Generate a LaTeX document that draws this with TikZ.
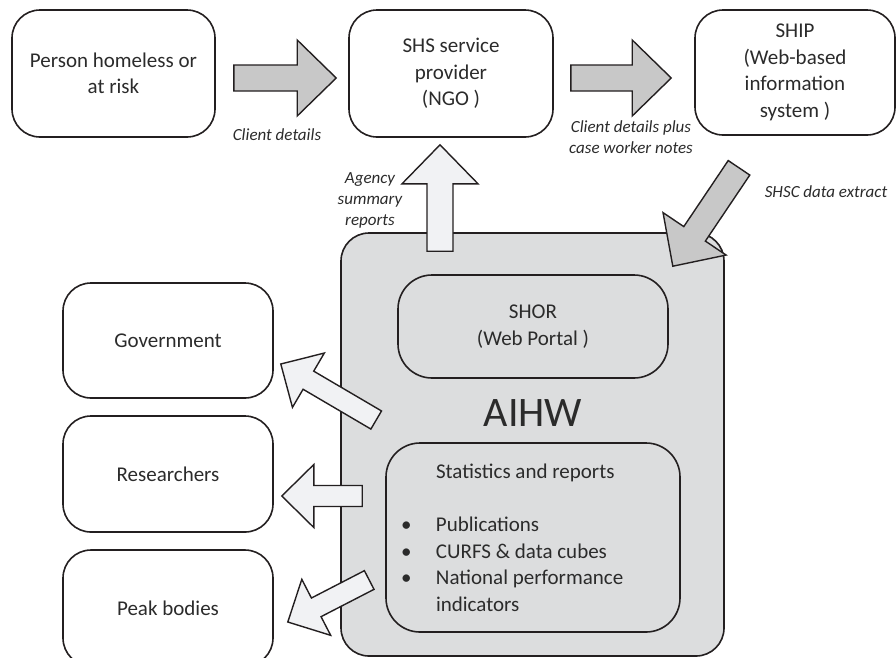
\documentclass[tikz,border=0pt]{standalone}
\usepackage{fontspec}
\setmainfont{Carlito}
\usepackage{tikz}
\usetikzlibrary{positioning}
\usetikzlibrary{calc}
\definecolor{linegray}{HTML}{231F20}
\definecolor{boxgray}{HTML}{DCDDDE}
\definecolor{arrowgray}{HTML}{C8C8C8}
\definecolor{arrowwhite}{HTML}{F1F2F4}
\definecolor{textgray}{HTML}{2B2B2B}
\tikzset{roundbox/.style={rectangle, rounded corners=28pt, draw=linegray, line width=1.6pt, text=textgray, align=center, inner sep=0pt, font=\fontsize{21}{26.5}\selectfont}}
\tikzset{innerbox/.style={roundbox, fill=boxgray, rounded corners=34pt}}
\tikzset{barrow/.style n args={3}{to path={let \p1=(\tikztostart), \p2=(\tikztotarget), \n1={atan2(\y2-\y1,\x2-\x1)}, \p3=($(\p2)!#3!(\p1)$) in ($(\p1)+(\n1-90:#1)$) -- ($(\p3)+(\n1-90:#1)$) -- ($(\p3)+(\n1-90:#2)$) -- (\p2) -- ($(\p3)+(\n1+90:#2)$) -- ($(\p3)+(\n1+90:#1)$) -- ($(\p1)+(\n1+90:#1)$) -- cycle}}}
\tikzset{bigarrow/.style={barrow={13pt}{38pt}{39pt}, draw=linegray, line width=1.4pt, fill=arrowgray}}
\tikzset{smallarrow/.style={barrow={10.5pt}{31.5pt}{32pt}, draw=linegray, line width=1.4pt, fill=arrowwhite}}
\tikzset{flowlabel/.style={text=textgray, align=center, inner sep=0pt, font=\fontsize{17}{21}\selectfont\itshape}}

\begin{document}
\begin{tikzpicture}[x=1pt, y=-1pt]
    \useasboundingbox (0,0) rectangle (896,657);

    % top row
    \node[roundbox, minimum width=203pt, minimum height=127pt] (person) at (113.5,73.5) {Person homeless or\\at risk};
    \node[roundbox, minimum width=204pt, minimum height=127pt] (shs)    at (451,73.5)   {SHS service\\provider\\(NGO )};
    \node[roundbox, minimum width=200pt, minimum height=125pt] (ship)   at (795,72.5)   {SHIP\\(Web-based\\information\\system )};

    % users
    \node[roundbox, minimum width=210pt, minimum height=115pt] (gov)  at (168,340.5) {Government};
    \node[roundbox, minimum width=210pt, minimum height=116pt] (res)  at (168,474)   {Researchers};
    \node[roundbox, minimum width=210pt, minimum height=116pt] (peak) at (168,608)   {Peak bodies};

    % AIHW
    \node[roundbox, fill=boxgray, minimum width=383pt, minimum height=423pt] (aihw) at (532.5,444.5) {};
    \node[innerbox, minimum width=270pt, minimum height=103pt] (shor) at (533,326.5) {SHOR\\(Web Portal )};
    \node[text=textgray, inner sep=0pt, font=\fontsize{42}{50}\selectfont] (aihwtitle) at (533,413) {AIHW};
    \node[innerbox, minimum width=294pt, minimum height=189pt, text width=264pt, align=flush left] (stats) at (533,537.5)
        {\hspace*{35pt}Statistics and reports\\[27pt]
         \makebox[35pt][l]{\textbullet}Publications\\
         \makebox[35pt][l]{\textbullet}CURFS \& data cubes\\
         \makebox[35pt][l]{\textbullet}National performance\\
         \hspace*{35pt}indicators};

    % flows
    \draw[bigarrow] ([shift={(18,4.5)}]person.east) to ([shift={(-12,4.5)}]shs.west);
    \draw[bigarrow] ([shift={(17,4.5)}]shs.east) to ([shift={(-23,5.5)}]ship.west);
    \draw[bigarrow] ([shift={(-56,32)}]ship.south) to ([shift={(-52,34)}]aihw.north east);
    \draw[bigarrow, fill=arrowwhite] ([shift={(-92.5,19)}]aihw.north) to ([shift={(-11,7)}]shs.south);
    \draw[smallarrow] ([shift={(36,-24.5)}]aihw.west) to ([shift={(7,23.5)}]gov.east);
    \draw[smallarrow] ([shift={(22,51.5)}]aihw.west) to ([shift={(8,22)}]res.east);
    \draw[smallarrow] ([shift={(29,135.5)}]aihw.west) to ([shift={(14,14)}]peak.east);

    % flow labels
    \node[flowlabel] (clientlbl) at (277,135) {Client details};
    \node[flowlabel] (noteslbl)  at (631,137) {Client details plus\\case worker notes};
    \node[flowlabel] (agencylbl) at (370,200) {Agency\\summary\\reports};
    \node[flowlabel] (shsclbl)   at (826,192) {SHSC data extract};
\end{tikzpicture}
\end{document}
